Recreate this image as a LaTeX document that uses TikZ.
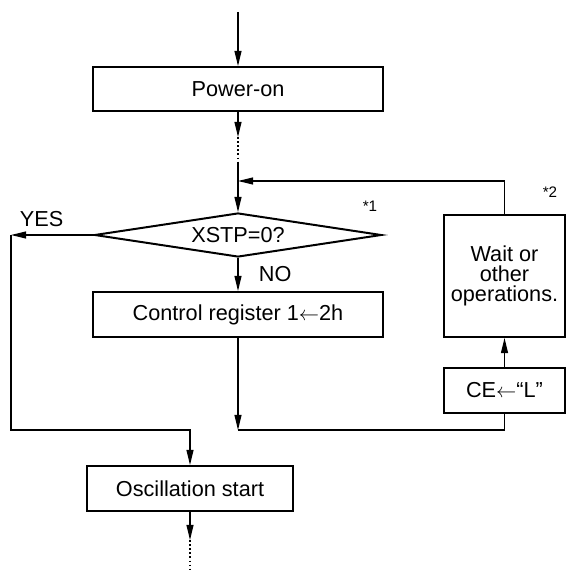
\documentclass[tikz,border=0pt]{standalone}
\usepackage{fontspec}
\setmainfont{Liberation Sans}
\usetikzlibrary{arrows.meta, shapes.geometric}

\begin{document}
\begin{tikzpicture}[x=0.03cm, y=-0.03cm,
    font=\fontsize{18.5}{17}\selectfont,
    box/.style={draw, line width=1.7pt, inner sep=0pt, align=center},
    test/.style={diamond, draw, line width=1.7pt, aspect=6.5, inner sep=0pt,
        minimum width=8.61cm, minimum height=1.32cm},
    arr/.style={-{Triangle[length=13pt, width=6pt]}, line width=1pt},
    flow/.style={line width=1pt},
    dots/.style={line width=0.9pt, dash pattern=on 1.5pt off 2pt},
    note/.style={font=\fontsize{13}{15}\selectfont}]
    \useasboundingbox (0,0) rectangle (566,571);

    % boxes
    \node[box, minimum width=8.67cm, minimum height=1.32cm] (pwr) at (238,89) {Power-on};
    \node[test] (chk) at (238,235) {XSTP=0?};
    \node[box, minimum width=8.67cm, minimum height=1.35cm] (ctl) at (238,314.5) {Control register 1$\leftarrow$2h};
    \node[box, minimum width=3.63cm, minimum height=3.66cm] (wait) at (504.5,276) {Wait or\\other\\operations.};
    \node[box, minimum width=3.63cm, minimum height=1.35cm] (ce) at (504.5,390.5) {CE$\leftarrow$“L”};
    \node[box, minimum width=6.18cm, minimum height=1.35cm] (osc) at (190,488.5) {Oscillation start};

    % free ends and bends
    \coordinate (in) at (238,12);
    \coordinate (d1) at (238,137);
    \coordinate (d2) at (238,163);
    \coordinate (j1) at (238,181);
    \coordinate (yes) at (11,235);
    \coordinate (j2) at (238,430);
    \coordinate (j3) at (190,430);
    \coordinate (e1) at (190,540);
    \coordinate (e2) at (190,571);

    % connectors
    \draw[arr] (in) -- (pwr);
    \draw[arr] (pwr) -- (d1);
    \draw[dots] (d1) -- (d2);
    \draw[arr] (d2) -- (chk);
    \draw[arr] (wait) |- (j1);
    \draw[arr] (chk) -- node[above, pos=0.63, yshift=3pt] {YES} (yes);
    \draw[arr] (yes) |- (j3) -- (osc);
    \draw[arr] (chk) -- node[right, xshift=14pt] {NO} (ctl);
    \draw[arr] (ctl) -- (j2);
    \draw[flow] (ce) |- (j2);
    \draw[arr] (ce) -- (wait);
    \draw[arr] (osc) -- (e1);
    \draw[dots] (e1) -- (e2);

    % notes
    \node[note] (n1) at (370,206) {*1};
    \node[note] (n2) at (550,192) {*2};
\end{tikzpicture}
\end{document}
